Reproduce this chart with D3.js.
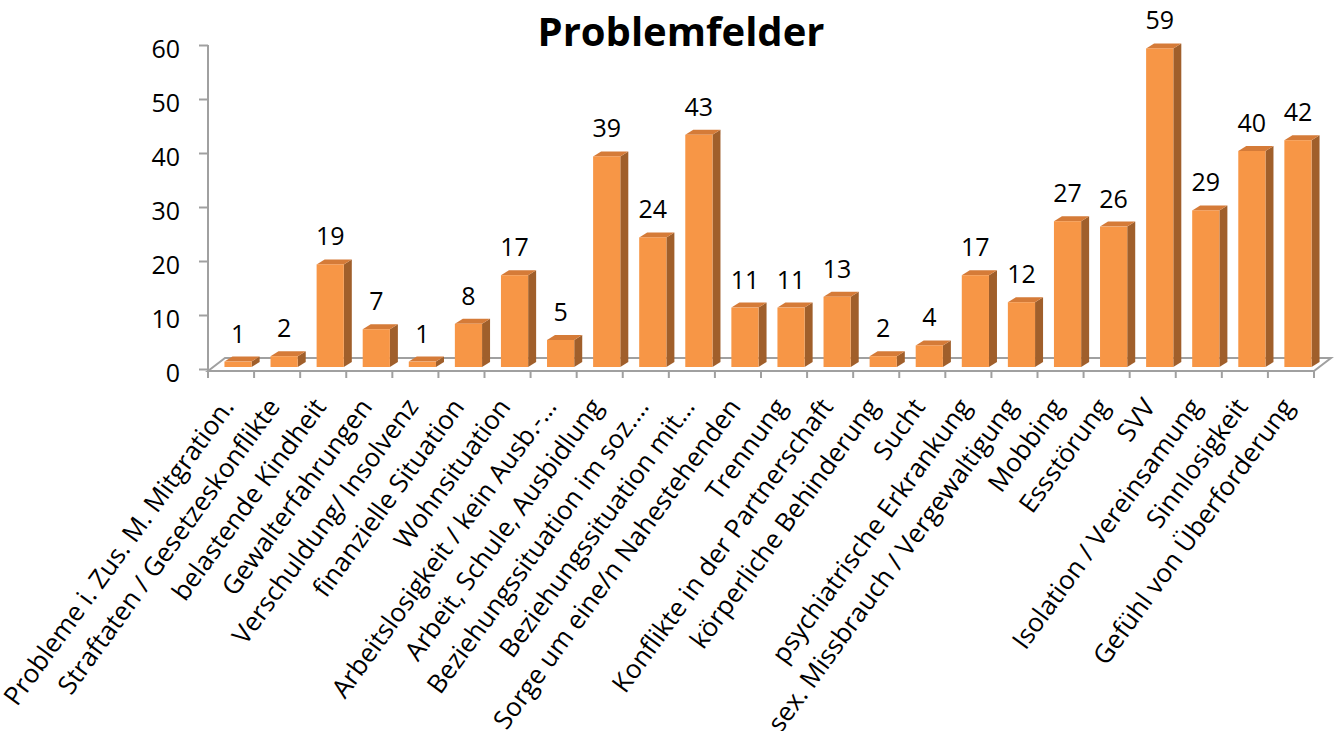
<!DOCTYPE html>
<html>
<head>
<meta charset="utf-8">
<script src="https://cdn.jsdelivr.net/npm/d3@7"></script>
<style>
  body { margin: 0; background: #fff; }
  text { font-family: "Open Sans", sans-serif; fill: #000; }
</style>
</head>
<body>
<script>
// Données
const categories = [
  "Probleme i. Zus. M. Mitgration.",
  "Straftaten / Gesetzeskonflikte",
  "belastende Kindheit",
  "Gewalterfahrungen",
  "Verschuldung/ Insolvenz",
  "finanzielle Situation",
  "Wohnsituation",
  "Arbeitslosigkeit / kein Ausb.-…",
  "Arbeit, Schule, Ausbidlung",
  "Beziehungssituation im soz.…",
  "Beziehungssituation mit…",
  "Sorge um eine/n Nahestehenden",
  "Trennung",
  "Konflikte in der Partnerschaft",
  "körperliche Behinderung",
  "Sucht",
  "psychiatrische Erkrankung",
  "sex. Missbrauch / Vergewaltigung",
  "Mobbing",
  "Essstörung",
  "SVV",
  "Isolation / Vereinsamung",
  "Sinnlosigkeit",
  "Gefühl von Überforderung"
];
const values = [1, 2, 19, 7, 1, 8, 17, 5, 39, 24, 43, 11, 11, 13, 2, 4, 17, 12, 27, 26, 59, 29, 40, 42];
const yTicks = [0, 10, 20, 30, 40, 50, 60];
const title = "Problemfelder";

// Paramètres
const width = 1343;
const height = 731;
const left = 208, right = 1314;
const floorDepth = { dx: 17, dy: -13 };
const barDepth = { dx: 8, dy: -5 };
const barShift = { dx: 7, dy: -2 };
const colors = { front: "#f79646", side: "#a05f2b", top: "#d57b38", axis: "#a0a0a0" };

const svg = d3.select("body").append("svg")
  .attr("width", width)
  .attr("height", height);

const x = d3.scaleBand()
  .domain(categories)
  .range([left, right])
  .paddingInner(0.41)
  .paddingOuter(0.205);

const y = d3.scaleLinear()
  .domain([0, 60])
  .range([369, 45]);

const bw = x.bandwidth();
const floorY = y(0) + 2;
const tickXs = d3.range(categories.length + 1).map(i => left + i * x.step());

// Sol 3D
const floor = svg.append("g")
  .attr("fill", "none")
  .attr("stroke", colors.axis)
  .attr("stroke-width", 2);
const x0 = tickXs[0], x1 = tickXs[tickXs.length - 1];
floor.append("path")
  .attr("d", `M${x0},${floorY}L${x0 + floorDepth.dx},${floorY + floorDepth.dy}` +
             `L${x1 + floorDepth.dx},${floorY + floorDepth.dy}L${x1},${floorY}Z`);

// Graduations horizontales
floor.selectAll("line.xt")
  .data(tickXs)
  .enter()
  .append("line")
  .attr("x1", d => d).attr("x2", d => d)
  .attr("y1", floorY).attr("y2", floorY + 7);

// Barres
const bars = svg.append("g")
  .selectAll("g")
  .data(categories.map((c, i) => ({ name: c, count: values[i] })))
  .enter()
  .append("g");

const fx = d => x(d.name) + barShift.dx;
const ftop = d => y(d.count) + barShift.dy;
const fbot = y(0) + barShift.dy;

bars.append("path")
  .attr("fill", colors.side)
  .attr("d", d => `M${fx(d) + bw},${fbot}L${fx(d) + bw + barDepth.dx},${fbot + barDepth.dy}` +
                  `L${fx(d) + bw + barDepth.dx},${ftop(d) + barDepth.dy}L${fx(d) + bw},${ftop(d)}Z`);

bars.append("path")
  .attr("fill", colors.top)
  .attr("d", d => `M${fx(d)},${ftop(d)}L${fx(d) + barDepth.dx},${ftop(d) + barDepth.dy}` +
                  `L${fx(d) + bw + barDepth.dx},${ftop(d) + barDepth.dy}L${fx(d) + bw},${ftop(d)}Z`);

bars.append("rect")
  .attr("fill", colors.front)
  .attr("x", fx)
  .attr("y", ftop)
  .attr("width", bw)
  .attr("height", d => fbot - ftop(d));

// Étiquettes de valeurs
bars.append("text")
  .attr("x", d => fx(d) + bw / 2)
  .attr("y", d => ftop(d) - 19)
  .attr("text-anchor", "middle")
  .style("font-size", "25px")
  .text(d => d.count);

// Axe vertical
svg.append("g")
  .attr("transform", `translate(${left},0)`)
  .call(d3.axisLeft(y).tickValues(yTicks).tickSize(9).tickSizeOuter(0).tickPadding(19))
  .call(g => g.selectAll("path, line").attr("stroke", colors.axis).attr("stroke-width", 2))
  .call(g => g.select(".domain").attr("d", `M0,${y(60)}V${floorY}`))
  .call(g => g.selectAll("text")
    .attr("fill", "#000")
    .attr("dy", "0.48em")
    .style("font-size", "25px")
    .style("font-family", "'Open Sans', sans-serif"));

// Étiquettes des catégories
svg.append("g")
  .selectAll("text")
  .data(categories)
  .enter()
  .append("text")
  .attr("text-anchor", "end")
  .attr("transform", d => `translate(${x(d) + bw / 2 + 4},407) rotate(-54)`)
  .style("font-size", "26px")
  .text(d => d);

// Titre
svg.append("text")
  .attr("x", 681)
  .attr("y", 46)
  .attr("text-anchor", "middle")
  .style("font-size", "40px")
  .style("font-weight", "bold")
  .text(title);
</script>
</body>
</html>
